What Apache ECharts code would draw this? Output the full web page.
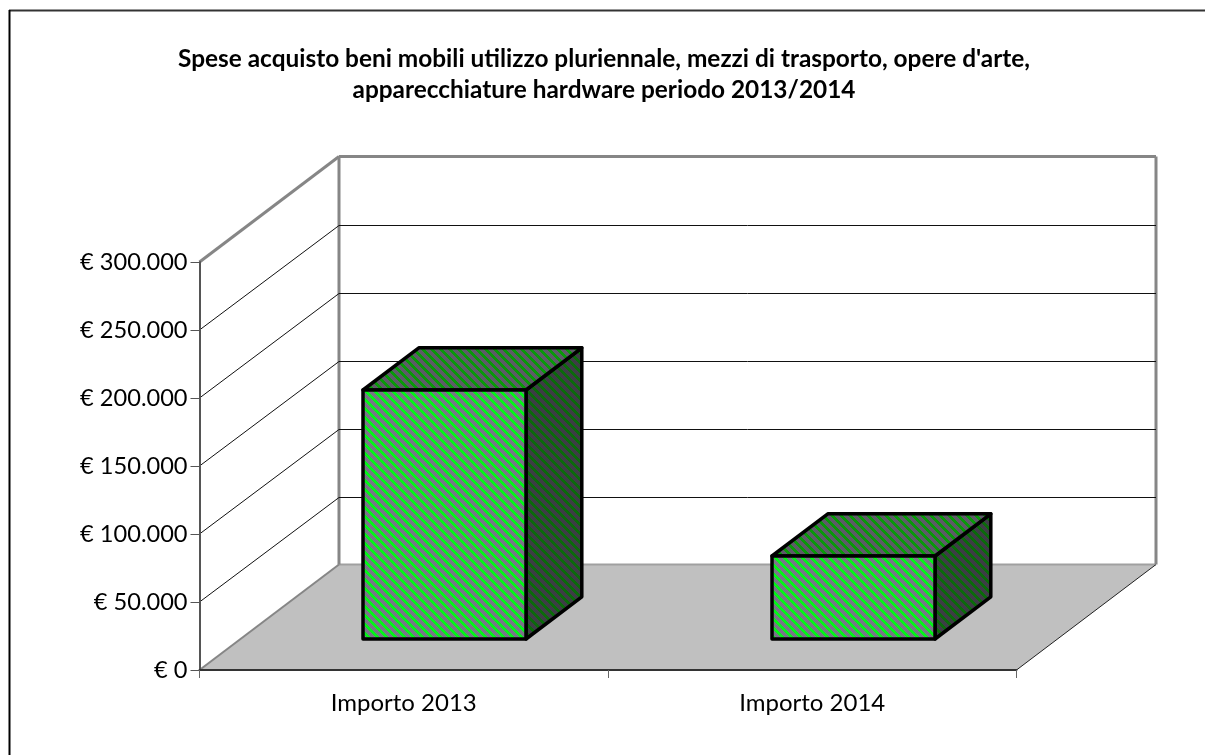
<!DOCTYPE html>
<html>
<head>
<meta charset="utf-8">
<title>Spese acquisto beni mobili</title>
<script src="https://cdn.jsdelivr.net/npm/echarts@6/dist/echarts.min.js"></script>
<style>
  html, body { margin: 0; padding: 0; background: #fff; }
  #chart { width: 1205px; height: 755px; }
</style>
</head>
<body>
<div id="chart"></div>
<script>
const categories = ['Importo 2013', 'Importo 2014']
const importi = [183000, 61000]
const yTicks = [0, 50000, 100000, 150000, 200000, 250000, 300000]
const titleLines = [
  "Spese acquisto beni mobili utilizzo pluriennale, mezzi di trasporto, opere d'arte,",
  'apparecchiature hardware periodo 2013/2014'
]

const FONT = 'Lato'
const DEPTH_X = 139.5 // spostamento della parete di fondo
const DEPTH_Y = -105.5
const BAR_FROM = 0.294 // posizione della barra nella profondita
const BAR_TO = 0.694
const BAR_RATIO = 0.4

// tile a righe diagonali, come il riempimento a tratteggio di Excel
function stripes (colorA, colorB) {
  const size = 9
  const c = document.createElement('canvas')
  c.width = size
  c.height = size
  const ctx = c.getContext('2d')
  for (let x = 0; x < size; x++) {
    for (let y = 0; y < size; y++) {
      ctx.fillStyle = ((x - y + size) % size) < 4 ? colorA : colorB
      ctx.fillRect(x, y, 1, 1)
    }
  }
  return { image: c, repeat: 'repeat' }
}

const fillFront = stripes('#06f21a', '#7a7488')
const fillTop = stripes('#0a980a', '#5e5a68')
const fillSide = stripes('#0b6a0b', '#3e3c46')

function line (x1, y1, x2, y2, stroke, lineWidth) {
  return { type: 'line', silent: true, shape: { x1, y1, x2, y2 }, style: { stroke, lineWidth } }
}

function renderWalls (params, api) {
  const a = api.coord([0, 0])
  const origin = [a[0] - api.size([1, 0])[0] / 2, a[1]]
  const w = api.size([1, 0])[0] * categories.length
  const h = a[1] - api.coord([0, yTicks[yTicks.length - 1]])[1]
  const x0 = origin[0]
  const y0 = origin[1]
  const grey = '#868686'
  return {
    type: 'group',
    children: [
      {
        type: 'polygon',
        silent: true,
        shape: { points: [[x0, y0], [x0 + w, y0], [x0 + w + DEPTH_X, y0 + DEPTH_Y], [x0 + DEPTH_X, y0 + DEPTH_Y]] },
        style: { fill: '#c0c0c0' }
      },
      line(x0, y0, x0 + DEPTH_X, y0 + DEPTH_Y, grey, 2),
      line(x0 + DEPTH_X, y0 + DEPTH_Y, x0 + DEPTH_X + w, y0 + DEPTH_Y, '#a0a0a0', 2),
      line(x0 + w, y0, x0 + w + DEPTH_X, y0 + DEPTH_Y, '#222222', 1),
      line(x0 + DEPTH_X, y0 + DEPTH_Y, x0 + DEPTH_X, y0 + DEPTH_Y - h, grey, 3),
      line(x0 + DEPTH_X + w, y0 + DEPTH_Y, x0 + DEPTH_X + w, y0 + DEPTH_Y - h, grey, 3),
      line(x0, y0 - h, x0 + DEPTH_X, y0 - h + DEPTH_Y, grey, 3),
      line(x0 + DEPTH_X, y0 - h + DEPTH_Y, x0 + DEPTH_X + w, y0 - h + DEPTH_Y, grey, 3)
    ]
  }
}

function renderGrid (params, api) {
  const v = api.value(1)
  if (v === 0 || v === yTicks[yTicks.length - 1]) return { type: 'group', children: [] }
  const p = api.coord([0, v])
  const x0 = p[0] - api.size([1, 0])[0] / 2
  const w = api.size([1, 0])[0] * categories.length
  const y = p[1]
  const yBack = Math.round(y + DEPTH_Y) + 0.5
  return {
    type: 'group',
    children: [
      line(x0, y, x0 + DEPTH_X, yBack, '#111111', 1),
      line(x0 + DEPTH_X, yBack, x0 + DEPTH_X + w, yBack, '#111111', 1)
    ]
  }
}

function renderBar (params, api) {
  const base = api.coord([api.value(0), 0])
  const top = api.coord([api.value(0), api.value(1)])
  const w = api.size([1, 0])[0] * BAR_RATIO
  const dx = DEPTH_X * BAR_FROM
  const dy = DEPTH_Y * BAR_FROM
  const ox = DEPTH_X * (BAR_TO - BAR_FROM)
  const oy = DEPTH_Y * (BAR_TO - BAR_FROM)
  const l = Math.round(base[0] - w / 2 + dx)
  const r = l + Math.round(w)
  const t = Math.round(top[1] + dy)
  const b = Math.round(base[1] + dy)
  const edge = { stroke: '#000', lineWidth: 3.5, lineJoin: 'round' }
  return {
    type: 'group',
    children: [
      {
        type: 'polygon',
        shape: { points: [[r, t], [r + ox, t + oy], [r + ox, b + oy], [r, b]] },
        style: Object.assign({ fill: fillSide }, edge)
      },
      {
        type: 'polygon',
        shape: { points: [[l, t], [l + ox, t + oy], [r + ox, t + oy], [r, t]] },
        style: Object.assign({ fill: fillTop }, edge)
      },
      {
        type: 'polygon',
        shape: { points: [[l, t], [r, t], [r, b], [l, b]] },
        style: Object.assign({ fill: fillFront }, edge)
      }
    ]
  }
}

const chart = echarts.init(document.getElementById('chart'), null, { renderer: 'canvas' })

chart.setOption({
  animation: false,
  backgroundColor: '#ffffff',
  title: {
    text: titleLines.join('\n'),
    left: 599,
    top: 39,
    textAlign: 'center',
    textStyle: { fontFamily: FONT, fontSize: 24.4, fontWeight: 'bold', color: '#000', lineHeight: 31 }
  },
  grid: { left: 199.5, top: 262, width: 817, height: 408 },
  xAxis: {
    type: 'category',
    data: categories,
    z: 5,
    axisLine: { lineStyle: { color: '#333', width: 2 } },
    axisTick: { show: true, length: 8, alignWithLabel: false, lineStyle: { color: '#666', width: 1 } },
    axisLabel: { fontFamily: FONT, fontSize: 24, color: '#000', margin: 21 }
  },
  yAxis: {
    type: 'value',
    min: 0,
    max: yTicks[yTicks.length - 1],
    interval: yTicks[1],
    z: 5,
    axisLine: { show: true, lineStyle: { color: '#555', width: 2 } },
    axisTick: { show: true, length: 9, lineStyle: { color: '#555', width: 1 } },
    splitLine: { show: false },
    axisLabel: {
      fontFamily: FONT,
      fontSize: 23.6,
      color: '#000',
      margin: 12,
      padding: [1, 0, 0, 0],
      formatter: function (v) {
        return '€ ' + String(v).replace(/\B(?=(\d{3})+$)/g, '.')
      }
    }
  },
  graphic: [
    { type: 'line', shape: { x1: 9, y1: 10.5, x2: 1205, y2: 10.5 }, style: { stroke: '#333', lineWidth: 2 } },
    { type: 'line', shape: { x1: 9.5, y1: 10, x2: 9.5, y2: 755 }, style: { stroke: '#000', lineWidth: 2 } }
  ],
  series: [
    { type: 'custom', name: 'pareti', silent: true, z: 1, renderItem: renderWalls, data: [[0, 0]] },
    { type: 'custom', name: 'griglia', silent: true, z: 2, renderItem: renderGrid, data: yTicks.map(v => [0, v]) },
    { type: 'custom', name: 'Importo', z: 3, renderItem: renderBar, data: importi.map((v, i) => [i, v]) }
  ]
})
</script>
</body>
</html>
